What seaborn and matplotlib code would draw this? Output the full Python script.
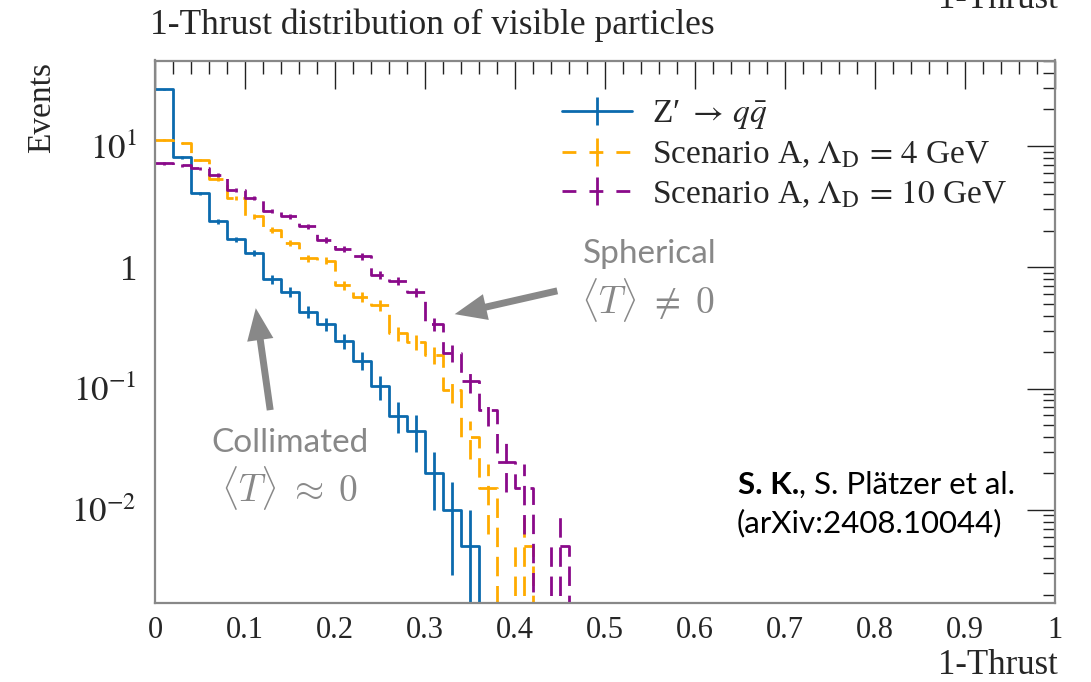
import numpy as np
import pandas as pd
import matplotlib
matplotlib.use("Agg")
import matplotlib.pyplot as plt
import seaborn as sns
from matplotlib.lines import Line2D
from matplotlib.ticker import (FixedLocator, FixedFormatter, MultipleLocator,
                               LogLocator, NullFormatter)

# ---------------- data (normalised 1-Thrust distributions, bin width 0.02) ----------------
BIN_WIDTH = 0.02

zprime_vals = [29.3, 8.07, 4.07, 2.39, 1.70, 1.32, 0.796, 0.629, 0.431, 0.339,
               0.247, 0.170, 0.104, 0.0598, 0.045, 0.020, 0.010, 0.005, 0.0]
zprime_errs = [0.383, 0.200, 0.143, 0.109, 0.092, 0.081, 0.063, 0.056, 0.046, 0.041,
               0.035, 0.029, 0.023, 0.017, 0.015, 0.010, 0.0071, 0.005, 0.0]

scen4_vals = [11.2, 10.6, 7.67, 5.35, 3.71, 2.63, 2.03, 1.58, 1.19, 1.13,
              0.715, 0.573, 0.486, 0.285, 0.241, 0.190, 0.0975, 0.040, 0.015, 0.0,
              0.005, 0.0]
scen4_errs = [0.237, 0.230, 0.196, 0.164, 0.136, 0.115, 0.101, 0.089, 0.077, 0.075,
              0.060, 0.054, 0.049, 0.038, 0.035, 0.031, 0.022, 0.014, 0.0087, 0.0,
              0.005, 0.0]

scen10_vals = [7.2, 6.93, 6.55, 5.77, 4.36, 3.71, 2.93, 2.63, 2.19, 1.68,
               1.42, 1.23, 0.864, 0.776, 0.622, 0.339, 0.198, 0.116, 0.0667, 0.025,
               0.015, 0.0, 0.005, 0.0]
scen10_errs = [0.190, 0.186, 0.181, 0.170, 0.148, 0.136, 0.121, 0.115, 0.105, 0.092,
               0.084, 0.078, 0.066, 0.062, 0.056, 0.041, 0.031, 0.024, 0.018, 0.011,
               0.0087, 0.0, 0.005, 0.0]

series_labels = ["Z\u2032 $\\rightarrow\\, q\\bar{q}$",
                 r"Scenario A, $\Lambda_\mathrm{D} \,=\, 4$ GeV",
                 r"Scenario A, $\Lambda_\mathrm{D} \,=\, 10$ GeV"]
series_colors = ["#0b6aae", "#ffab00", "#8a0a8a"]

xtick_vals = [0, 0.1, 0.2, 0.3, 0.4, 0.5, 0.6, 0.7, 0.8, 0.9, 1.0]
xtick_labels = ["0", "0.1", "0.2", "0.3", "0.4", "0.5", "0.6", "0.7", "0.8", "0.9", "1"]
ytick_vals = [1e-2, 1e-1, 1, 10]
ytick_labels = [r"$10^{-2}$", r"$10^{-1}$", "1", r"$10^{1}$"]

title_text = "1-Thrust distribution of visible particles"
xlabel_text = "1-Thrust"
ylabel_text = "Events"

# ---------------- style ----------------
sns.set_theme(style="white")
plt.rcParams['font.family'] = ['Liberation Serif', 'DejaVu Serif']
plt.rcParams['mathtext.fontset'] = 'stix'

fig = plt.figure(figsize=(10.91, 6.82), dpi=100)
ax = fig.add_axes([155 / 1091, 1 - 602.5 / 682, 900 / 1091, 542 / 682])

DASH = (0, (7, 3.5))
styles = ["-", DASH, DASH]
series = [(zprime_vals, zprime_errs), (scen4_vals, scen4_errs), (scen10_vals, scen10_errs)]
LW = 2.0

for (vals, errs), color, ls in zip(series, series_colors, styles):
    vals = np.asarray(vals, dtype=float)
    errs = np.asarray(errs, dtype=float)
    n = len(vals)
    edges = np.linspace(0, BIN_WIDTH * n, n + 1)
    centers = edges[:-1] + BIN_WIDTH / 2
    df = pd.DataFrame({"x": centers, "w": vals})
    sns.histplot(data=df, x="x", weights="w", bins=edges.tolist(), element="step",
                 fill=False, color=color, linewidth=LW, linestyle=ls, ax=ax)
    mask = vals > 0
    eb = ax.errorbar(centers[mask], vals[mask], yerr=errs[mask], fmt="none",
                     ecolor=color, elinewidth=LW)
    eb.lines[2][0].set_linestyle(ls)

ax.set_yscale("log")
ax.set_xlim(0, 1)
ax.set_ylim(1.72e-3, 50.7)
ax.set_xlabel("")
ax.set_ylabel("")

ax.xaxis.set_major_locator(FixedLocator(xtick_vals))
ax.xaxis.set_major_formatter(FixedFormatter(xtick_labels))
ax.xaxis.set_minor_locator(MultipleLocator(0.02))
ax.yaxis.set_major_locator(FixedLocator(ytick_vals))
ax.yaxis.set_major_formatter(FixedFormatter(ytick_labels))
ax.yaxis.set_minor_locator(LogLocator(base=10, subs=np.arange(2, 10)))
ax.yaxis.set_minor_formatter(NullFormatter())

ax.tick_params(which="both", direction="in", top=True, right=True,
               color="#222222", width=1.0)
ax.tick_params(axis="x", labelsize=22)
ax.tick_params(axis="y", labelsize=25)
ax.tick_params(which="major", length=20)
ax.tick_params(which="minor", length=9)
ax.tick_params(axis="x", which="major", pad=10)
ax.tick_params(axis="y", which="major", pad=13)
for sp in ax.spines.values():
    sp.set_color("#888888")
    sp.set_linewidth(1.6)

# legend
LEG_DASH = (0, (5, 4.7))
handles = [Line2D([], [], color=c, ls=("-" if s == "-" else LEG_DASH), lw=LW,
                  marker="|", markersize=20, markeredgewidth=LW)
           for c, s in zip(series_colors, styles)]
ax.legend(handles, series_labels, loc="upper left", bbox_to_anchor=(0.452, 0.93),
          frameon=False, fontsize=24, handlelength=2.1, handletextpad=0.6,
          labelspacing=0.25, borderpad=0, borderaxespad=0)

# annotations
gray = "#888888"
ax.text(0.55, 0.643, "Spherical", transform=ax.transAxes, ha="center", va="center",
        color=gray, fontsize=24, family="Lato")
ax.text(0.548, 0.559, r"$\langle T\rangle \;\neq\; 0$", transform=ax.transAxes, ha="center",
        va="center", color=gray, fontsize=27, math_fontfamily="cm")
ax.text(0.15, 0.295, "Collimated", transform=ax.transAxes, ha="center", va="center",
        color=gray, fontsize=24, family="Lato")
ax.text(0.15, 0.212, r"$\langle T\rangle \;\approx\; 0$", transform=ax.transAxes, ha="center",
        va="center", color=gray, fontsize=27, math_fontfamily="cm")
arrow_kw = dict(facecolor=gray, edgecolor="none", width=5, headwidth=19, headlength=23,
                shrink=0)
ax.annotate("", xy=(0.112, 0.543), xytext=(0.128, 0.355), xycoords="axes fraction",
            textcoords="axes fraction", arrowprops=arrow_kw)
ax.annotate("", xy=(0.333, 0.532), xytext=(0.447, 0.575), xycoords="axes fraction",
            textcoords="axes fraction", arrowprops=arrow_kw)

# credit
t_norm = ax.text(0.9556, 0.217, ", S. Plätzer et al.", transform=ax.transAxes,
                 ha="right", va="center", fontsize=22.5, family="Lato", color="black")
fig.canvas.draw()
bb = t_norm.get_window_extent()
x0_axes = ax.transAxes.inverted().transform((bb.x0, bb.y0))[0]
ax.text(x0_axes, 0.217, "S. K.", transform=ax.transAxes, ha="right", va="center",
        fontsize=22.5, family="Lato", fontweight="bold", color="black")
ax.text(0.794, 0.147, "(arXiv:2408.10044)", transform=ax.transAxes, ha="center",
        va="center", fontsize=22.5, family="Lato", color="black")

# titles / labels
fig.text(150 / 1091, 1 - 34 / 682, title_text, ha="left", va="baseline", fontsize=25.5)
fig.text(1058 / 1091, 1 - 8 / 682, xlabel_text, ha="right", va="baseline", fontsize=25)
fig.text(1058 / 1091, 1 - 674 / 682, xlabel_text, ha="right", va="baseline", fontsize=25)
fig.text(42 / 1091, 1 - 62 / 682, ylabel_text, ha="center", va="top", rotation=90,
         fontsize=24)

fig.savefig("out.png", dpi=100)
